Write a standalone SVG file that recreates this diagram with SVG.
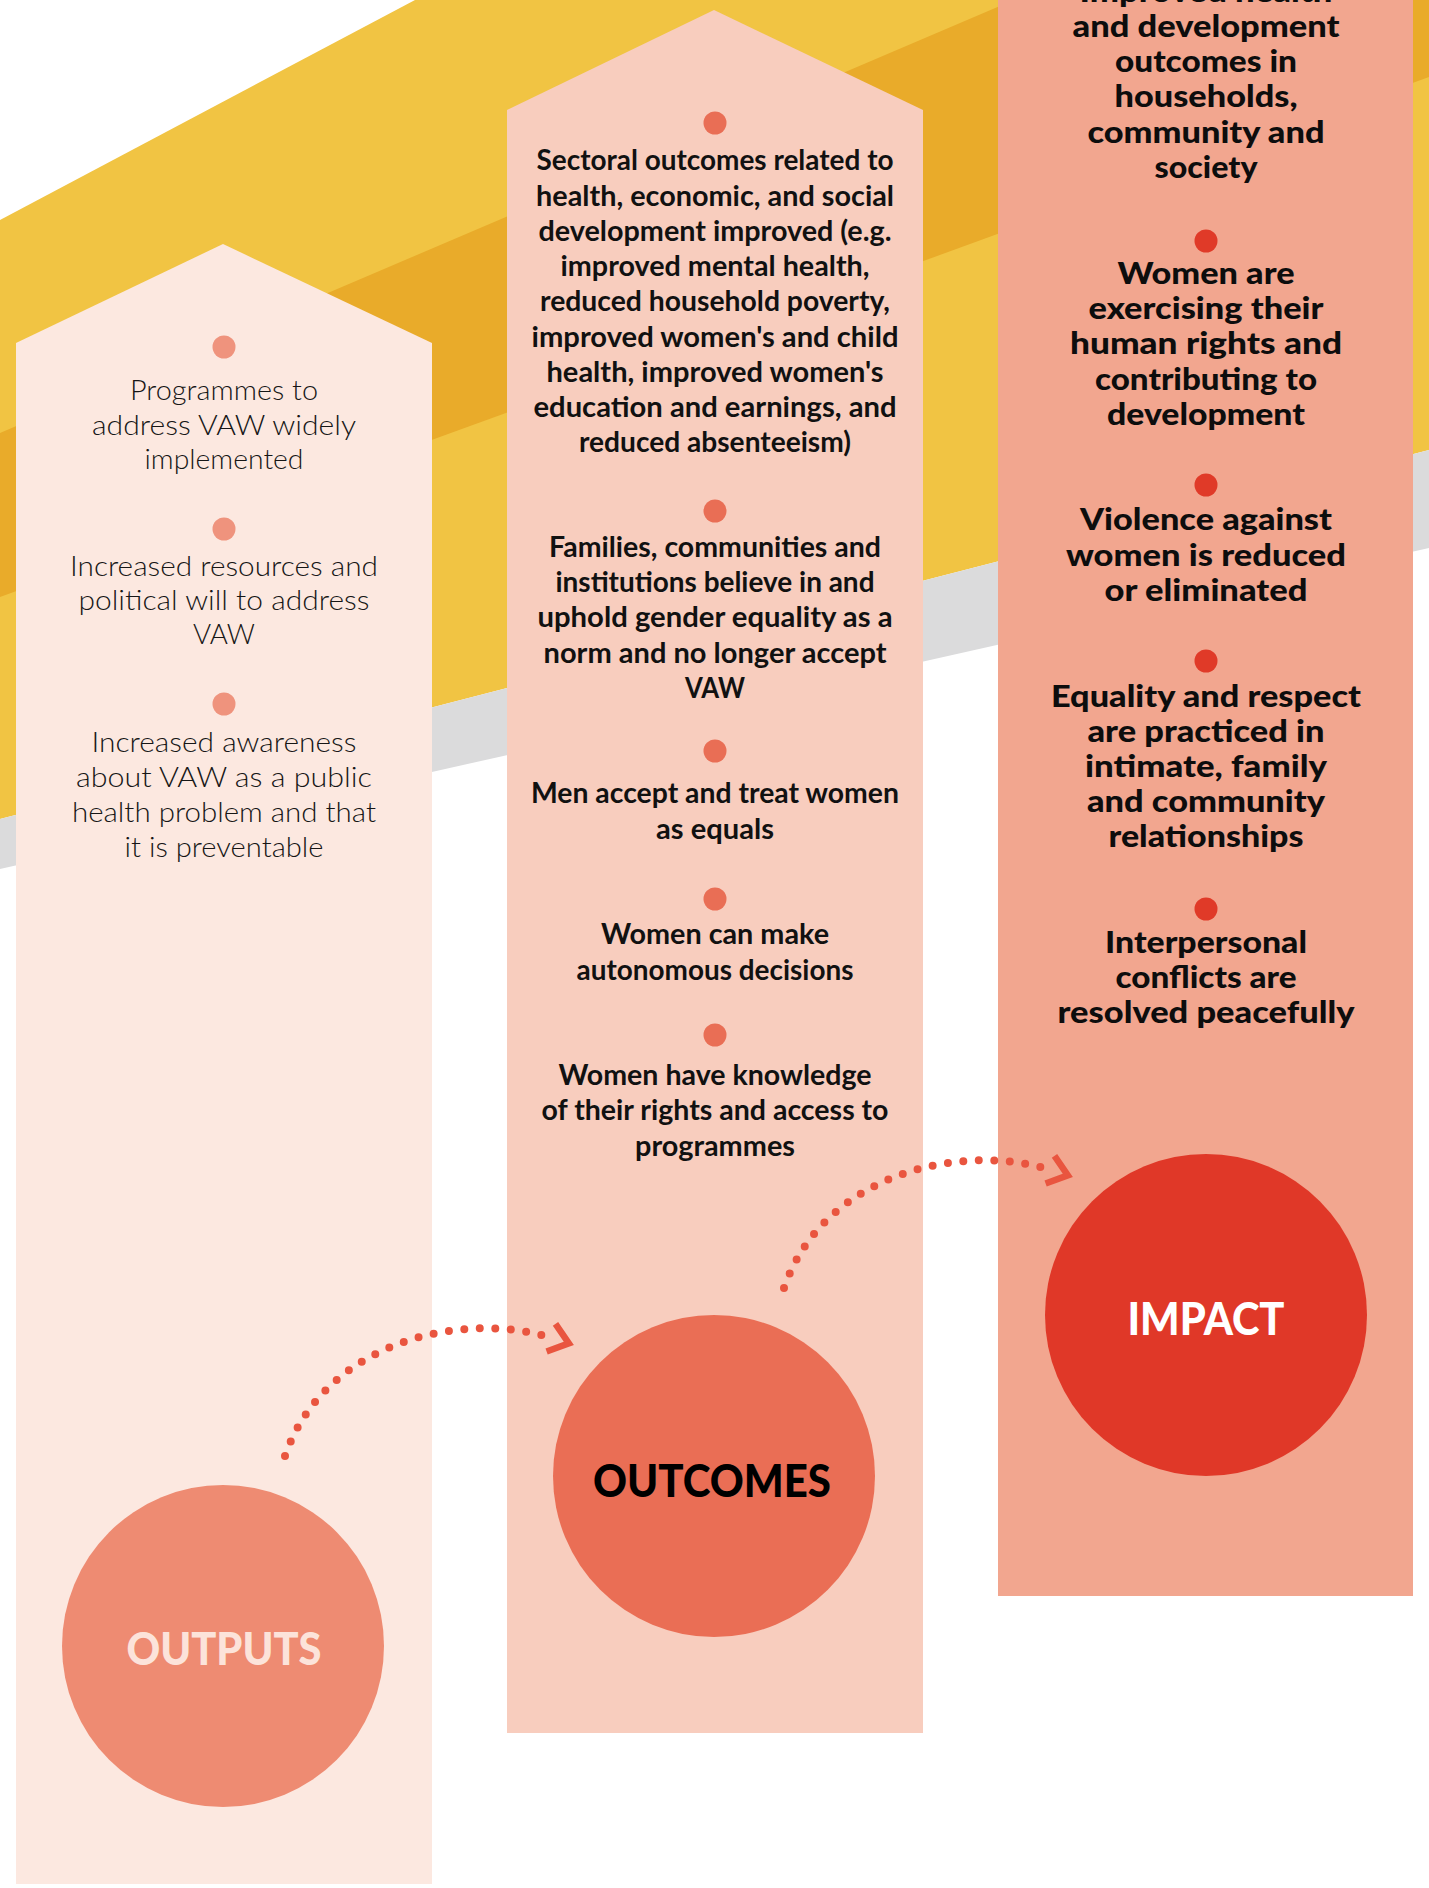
<svg xmlns="http://www.w3.org/2000/svg" width="1429" height="1888" viewBox="0 0 1429 1888">
<style>
.t1{font-family:Lato,"Liberation Sans",sans-serif;font-size:28px;font-weight:300;fill:#161616;text-anchor:middle}
.t2{font-family:Lato,"Liberation Sans",sans-serif;font-size:29px;font-weight:700;fill:#111;text-anchor:middle}
.t3{font-family:Lato,"Liberation Sans",sans-serif;font-size:30px;font-weight:900;fill:#0d0d0d;text-anchor:middle}
.lbl{font-family:Lato,"Liberation Sans",sans-serif;font-size:45px;font-weight:900;text-anchor:middle}
.b1{fill:#EF937D}
.b2{fill:#E96E55}
.b3{fill:#E03A28}
.dots{fill:none;stroke:#E9553F;stroke-width:8;stroke-linecap:round;stroke-dasharray:0 15.5}
</style>
<defs>
<marker id="chev" markerUnits="userSpaceOnUse" orient="auto" viewBox="-10 -25 40 50" refX="0" refY="0" markerWidth="40" markerHeight="50" overflow="visible">
<polyline points="-1,-14.5 17.7,0 -1,14.5" fill="none" stroke="#E9553F" stroke-width="6.5"/>
</marker>
</defs>
<rect width="1429" height="1888" fill="#fff"/>
<g id="background">
<polygon fill="#F1C443" points="0,220 415,0 1429,0 1429,450 0,819"/>
<polygon fill="#E9AB2A" points="0,433 1014,0 1429,0 1429,77 0,597"/>
<polygon fill="#DBDBDC" points="0,819 1429,450 1429,548 0,869"/>
</g>
<g id="col-outputs"><polygon fill="#FCE8E0" points="16,343 223,244 432,343 432,1884 16,1884"/></g>
<g id="col-outcomes"><polygon fill="#F8CDBE" points="507,110 714,10 923,110 923,1733 507,1733"/></g>
<g id="col-impact"><rect x="998" y="0" width="415" height="1596" fill="#F2A68F"/></g>

<g id="output-1">
<circle class="b1" cx="224" cy="347" r="11.5"/>
<text class="t1" x="224" y="400" textLength="188" lengthAdjust="spacingAndGlyphs">Programmes to</text>
<text class="t1" x="224" y="435" textLength="264" lengthAdjust="spacingAndGlyphs">address VAW widely</text>
<text class="t1" x="224" y="469" textLength="159" lengthAdjust="spacingAndGlyphs">implemented</text>
</g>
<g id="output-2">
<circle class="b1" cx="224" cy="529" r="11.5"/>
<text class="t1" x="224" y="576" textLength="308" lengthAdjust="spacingAndGlyphs">Increased resources and</text>
<text class="t1" x="224" y="610" textLength="291" lengthAdjust="spacingAndGlyphs">political will to address</text>
<text class="t1" x="224" y="644" textLength="62" lengthAdjust="spacingAndGlyphs">VAW</text>
</g>
<g id="output-3">
<circle class="b1" cx="224" cy="704" r="11.5"/>
<text class="t1" x="224" y="752" textLength="265" lengthAdjust="spacingAndGlyphs">Increased awareness</text>
<text class="t1" x="224" y="787" textLength="296" lengthAdjust="spacingAndGlyphs">about VAW as a public</text>
<text class="t1" x="224" y="822" textLength="304" lengthAdjust="spacingAndGlyphs">health problem and that</text>
<text class="t1" x="224" y="857" textLength="199" lengthAdjust="spacingAndGlyphs">it is preventable</text>
</g>

<g id="outcome-1">
<circle class="b2" cx="715" cy="123" r="11.5"/>
<text class="t2" x="715" y="170" textLength="357" lengthAdjust="spacingAndGlyphs">Sectoral outcomes related to</text>
<text class="t2" x="715" y="205.5" textLength="358" lengthAdjust="spacingAndGlyphs">health, economic, and social</text>
<text class="t2" x="715" y="240.5" textLength="353" lengthAdjust="spacingAndGlyphs">development improved (e.g.</text>
<text class="t2" x="715" y="276" textLength="309" lengthAdjust="spacingAndGlyphs">improved mental health,</text>
<text class="t2" x="715" y="311" textLength="350" lengthAdjust="spacingAndGlyphs">reduced household poverty,</text>
<text class="t2" x="715" y="346.5" textLength="367" lengthAdjust="spacingAndGlyphs">improved women's and child</text>
<text class="t2" x="715" y="381.5" textLength="337" lengthAdjust="spacingAndGlyphs">health, improved women's</text>
<text class="t2" x="715" y="416.5" textLength="363" lengthAdjust="spacingAndGlyphs">education and earnings, and</text>
<text class="t2" x="715" y="452" textLength="272" lengthAdjust="spacingAndGlyphs">reduced absenteeism)</text>
</g>
<g id="outcome-2">
<circle class="b2" cx="715" cy="511" r="11.5"/>
<text class="t2" x="715" y="557" textLength="332" lengthAdjust="spacingAndGlyphs">Families, communities and</text>
<text class="t2" x="715" y="592" textLength="319" lengthAdjust="spacingAndGlyphs">institutions believe in and</text>
<text class="t2" x="715" y="627" textLength="355" lengthAdjust="spacingAndGlyphs">uphold gender equality as a</text>
<text class="t2" x="715" y="663" textLength="343" lengthAdjust="spacingAndGlyphs">norm and no longer accept</text>
<text class="t2" x="715" y="698" textLength="60" lengthAdjust="spacingAndGlyphs">VAW</text>
</g>
<g id="outcome-3">
<circle class="b2" cx="715" cy="751" r="11.5"/>
<text class="t2" x="715" y="803" textLength="368" lengthAdjust="spacingAndGlyphs">Men accept and treat women</text>
<text class="t2" x="715" y="839" textLength="118" lengthAdjust="spacingAndGlyphs">as equals</text>
</g>
<g id="outcome-4">
<circle class="b2" cx="715" cy="899" r="11.5"/>
<text class="t2" x="715" y="944" textLength="228" lengthAdjust="spacingAndGlyphs">Women can make</text>
<text class="t2" x="715" y="980" textLength="277" lengthAdjust="spacingAndGlyphs">autonomous decisions</text>
</g>
<g id="outcome-5">
<circle class="b2" cx="715" cy="1035" r="11.5"/>
<text class="t2" x="715" y="1085" textLength="313" lengthAdjust="spacingAndGlyphs">Women have knowledge</text>
<text class="t2" x="715" y="1120" textLength="347" lengthAdjust="spacingAndGlyphs">of their rights and access to</text>
<text class="t2" x="715" y="1156" textLength="160" lengthAdjust="spacingAndGlyphs">programmes</text>
</g>

<g id="impact-1">
<text class="t3" x="1206" y="2" textLength="253" lengthAdjust="spacingAndGlyphs">Improved health</text>
<text class="t3" x="1206" y="37" textLength="267" lengthAdjust="spacingAndGlyphs">and development</text>
<text class="t3" x="1206" y="72" textLength="182" lengthAdjust="spacingAndGlyphs">outcomes in</text>
<text class="t3" x="1206" y="107" textLength="183" lengthAdjust="spacingAndGlyphs">households,</text>
<text class="t3" x="1206" y="143" textLength="237" lengthAdjust="spacingAndGlyphs">community and</text>
<text class="t3" x="1206" y="178" textLength="103" lengthAdjust="spacingAndGlyphs">society</text>
</g>
<g id="impact-2">
<circle class="b3" cx="1206" cy="241" r="11.5"/>
<text class="t3" x="1206" y="284" textLength="177" lengthAdjust="spacingAndGlyphs">Women are</text>
<text class="t3" x="1206" y="319" textLength="235" lengthAdjust="spacingAndGlyphs">exercising their</text>
<text class="t3" x="1206" y="354" textLength="272" lengthAdjust="spacingAndGlyphs">human rights and</text>
<text class="t3" x="1206" y="390" textLength="222" lengthAdjust="spacingAndGlyphs">contributing to</text>
<text class="t3" x="1206" y="425" textLength="198" lengthAdjust="spacingAndGlyphs">development</text>
</g>
<g id="impact-3">
<circle class="b3" cx="1206" cy="485" r="11.5"/>
<text class="t3" x="1206" y="530" textLength="252" lengthAdjust="spacingAndGlyphs">Violence against</text>
<text class="t3" x="1206" y="566" textLength="280" lengthAdjust="spacingAndGlyphs">women is reduced</text>
<text class="t3" x="1206" y="601" textLength="203" lengthAdjust="spacingAndGlyphs">or eliminated</text>
</g>
<g id="impact-4">
<circle class="b3" cx="1206" cy="661" r="11.5"/>
<text class="t3" x="1206" y="707" textLength="310" lengthAdjust="spacingAndGlyphs">Equality and respect</text>
<text class="t3" x="1206" y="742" textLength="237" lengthAdjust="spacingAndGlyphs">are practiced in</text>
<text class="t3" x="1206" y="777" textLength="242" lengthAdjust="spacingAndGlyphs">intimate, family</text>
<text class="t3" x="1206" y="812" textLength="238" lengthAdjust="spacingAndGlyphs">and community</text>
<text class="t3" x="1206" y="847" textLength="195" lengthAdjust="spacingAndGlyphs">relationships</text>
</g>
<g id="impact-5">
<circle class="b3" cx="1206" cy="909" r="11.5"/>
<text class="t3" x="1206" y="953" textLength="202" lengthAdjust="spacingAndGlyphs">Interpersonal</text>
<text class="t3" x="1206" y="988" textLength="181" lengthAdjust="spacingAndGlyphs">conflicts are</text>
<text class="t3" x="1206" y="1023" textLength="297" lengthAdjust="spacingAndGlyphs">resolved peacefully</text>
</g>

<g id="outputs">
<circle cx="223" cy="1646" r="161" fill="#EE8B72"/>
<text class="lbl" x="224" y="1665" fill="#FCE3DA" textLength="195" lengthAdjust="spacingAndGlyphs">OUTPUTS</text>
</g>
<g id="outcomes">
<circle cx="714" cy="1476" r="161" fill="#EA6E55"/>
<text class="lbl" x="712" y="1497" fill="#000" textLength="238" lengthAdjust="spacingAndGlyphs">OUTCOMES</text>
</g>
<g id="impact">
<circle cx="1206" cy="1315" r="161" fill="#E03828"/>
<text class="lbl" x="1206" y="1335" fill="#fff" textLength="157" lengthAdjust="spacingAndGlyphs">IMPACT</text>
</g>

<g id="connectors">
<path class="dots" d="M285,1456 C325,1340 465,1310 552,1338" marker-end="url(#chev)"/>
<path class="dots" d="M784,1288 C824,1172 964,1142 1051,1170" marker-end="url(#chev)"/>
</g>
</svg>
